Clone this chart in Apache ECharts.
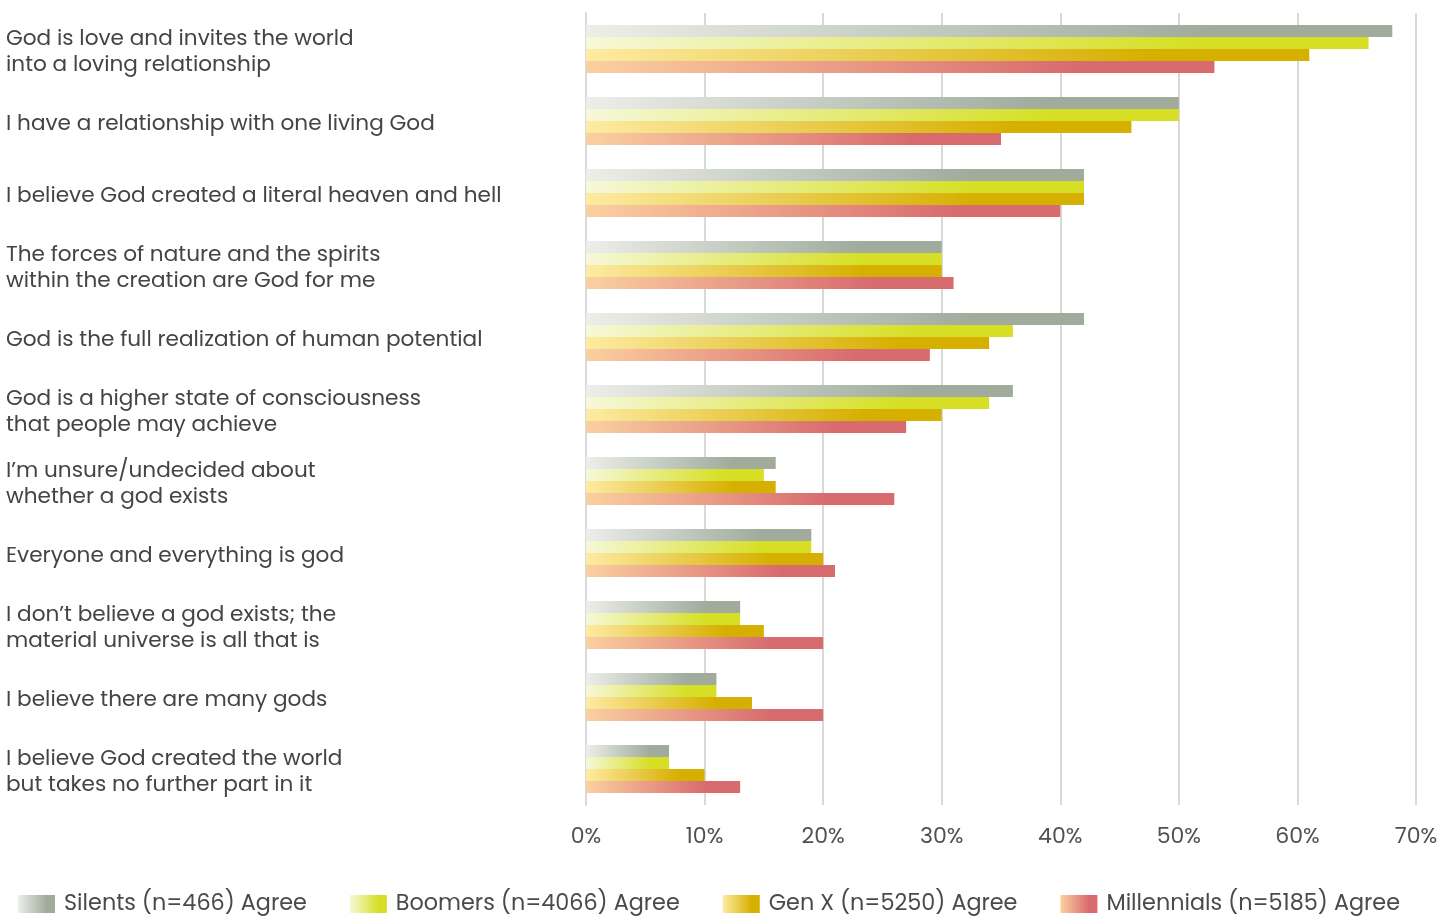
<!DOCTYPE html>
<html>
<head>
<meta charset="utf-8">
<script src="https://cdn.jsdelivr.net/npm/echarts@6/dist/echarts.min.js"></script>
<style>
  html, body { margin: 0; padding: 0; background: #ffffff; }
  #chart { width: 1455px; height: 917px; }
</style>
</head>
<body>
<div id="chart"></div>
<script>
// Statements about God, top to bottom
const categories = [
  'God is love and invites the world\ninto a loving relationship',
  'I have a relationship with one living God',
  'I believe God created a literal heaven and hell',
  'The forces of nature and the spirits\nwithin the creation are God for me',
  'God is the full realization of human potential',
  'God is a higher state of consciousness\nthat people may achieve',
  'I\u2019m unsure/undecided about\nwhether a god exists',
  'Everyone and everything is god',
  'I don\u2019t believe a god exists; the\nmaterial universe is all that is',
  'I believe there are many gods',
  'I believe God created the world\nbut takes no further part in it'
];

// Share agreeing, in percent
const silents     = [68, 50, 42, 30, 42, 36, 16, 19, 13, 11, 7];
const boomers     = [66, 50, 42, 30, 36, 34, 15, 19, 13, 11, 7];
const genX        = [61, 46, 42, 30, 34, 30, 16, 20, 15, 14, 10];
const millennials = [53, 35, 40, 31, 29, 27, 26, 21, 20, 20, 13];

const seriesNames = [
  'Silents (n=466) Agree',
  'Boomers (n=4066) Agree',
  'Gen X (n=5250) Agree',
  'Millennials (n=5185) Agree'
];

const xTicks = [0, 10, 20, 30, 40, 50, 60, 70];

const palette = [
  ['#eceeea', '#a0ab9c'],
  ['#f6f8d8', '#d6df25'],
  ['#fdeba2', '#d6b000'],
  ['#fbd0a0', '#d86b6e']
];

function grad(pair) {
  return new echarts.graphic.LinearGradient(0, 0, 1, 0, [
    { offset: 0, color: pair[0] },
    { offset: 0.78, color: pair[1] },
    { offset: 1, color: pair[1] }
  ]);
}

const FONT = 'Poppins, "Noto Sans", sans-serif';
const values = [silents, boomers, genX, millennials];

const chart = echarts.init(document.getElementById('chart'), null, { renderer: 'canvas' });

chart.setOption({
  animation: false,
  backgroundColor: '#ffffff',
  grid: { left: 586, right: 39, top: 13, bottom: 112, containLabel: false },
  legend: {
    top: 893,
    left: 18,
    padding: 0,
    itemWidth: 37,
    itemHeight: 18,
    itemGap: 43,
    icon: 'rect',
    textStyle: { fontFamily: FONT, fontSize: 22.3, color: '#4a4a4a', padding: [0, 0, 0, 4] },
    data: seriesNames
  },
  xAxis: {
    type: 'value',
    min: xTicks[0],
    max: xTicks[xTicks.length - 1],
    interval: 10,
    axisLine: { show: false },
    axisTick: { show: false },
    splitLine: { show: true, lineStyle: { color: '#d9d9d9', width: 2 } },
    axisLabel: {
      margin: 21,
      fontFamily: FONT,
      fontSize: 22,
      color: '#505050',
      formatter: v => v + '%'
    }
  },
  yAxis: {
    type: 'category',
    inverse: true,
    data: categories,
    axisLine: { show: true, lineStyle: { color: '#d9d9d9', width: 2 } },
    axisTick: { show: false },
    axisLabel: {
      align: 'left',
      margin: 580,
      fontFamily: FONT,
      fontSize: 21.6,
      lineHeight: 26,
      color: '#444444',
      // a thin spacer line on top nudges each label block a few pixels downward
      formatter: v => '{s| }\n' + v.split('\n').map(line => '{n|' + line + '}').join('\n'),
      rich: {
        s: { fontSize: 1, lineHeight: 8 },
        n: { fontFamily: FONT, fontSize: 21.6, lineHeight: 26, color: '#444444' }
      }
    }
  },
  series: seriesNames.map((name, i) => ({
    name: name,
    type: 'bar',
    data: values[i],
    barWidth: 12,
    barGap: '0%',
    barCategoryGap: '33%',
    itemStyle: { color: grad(palette[i]) }
  }))
});
</script>
</body>
</html>
